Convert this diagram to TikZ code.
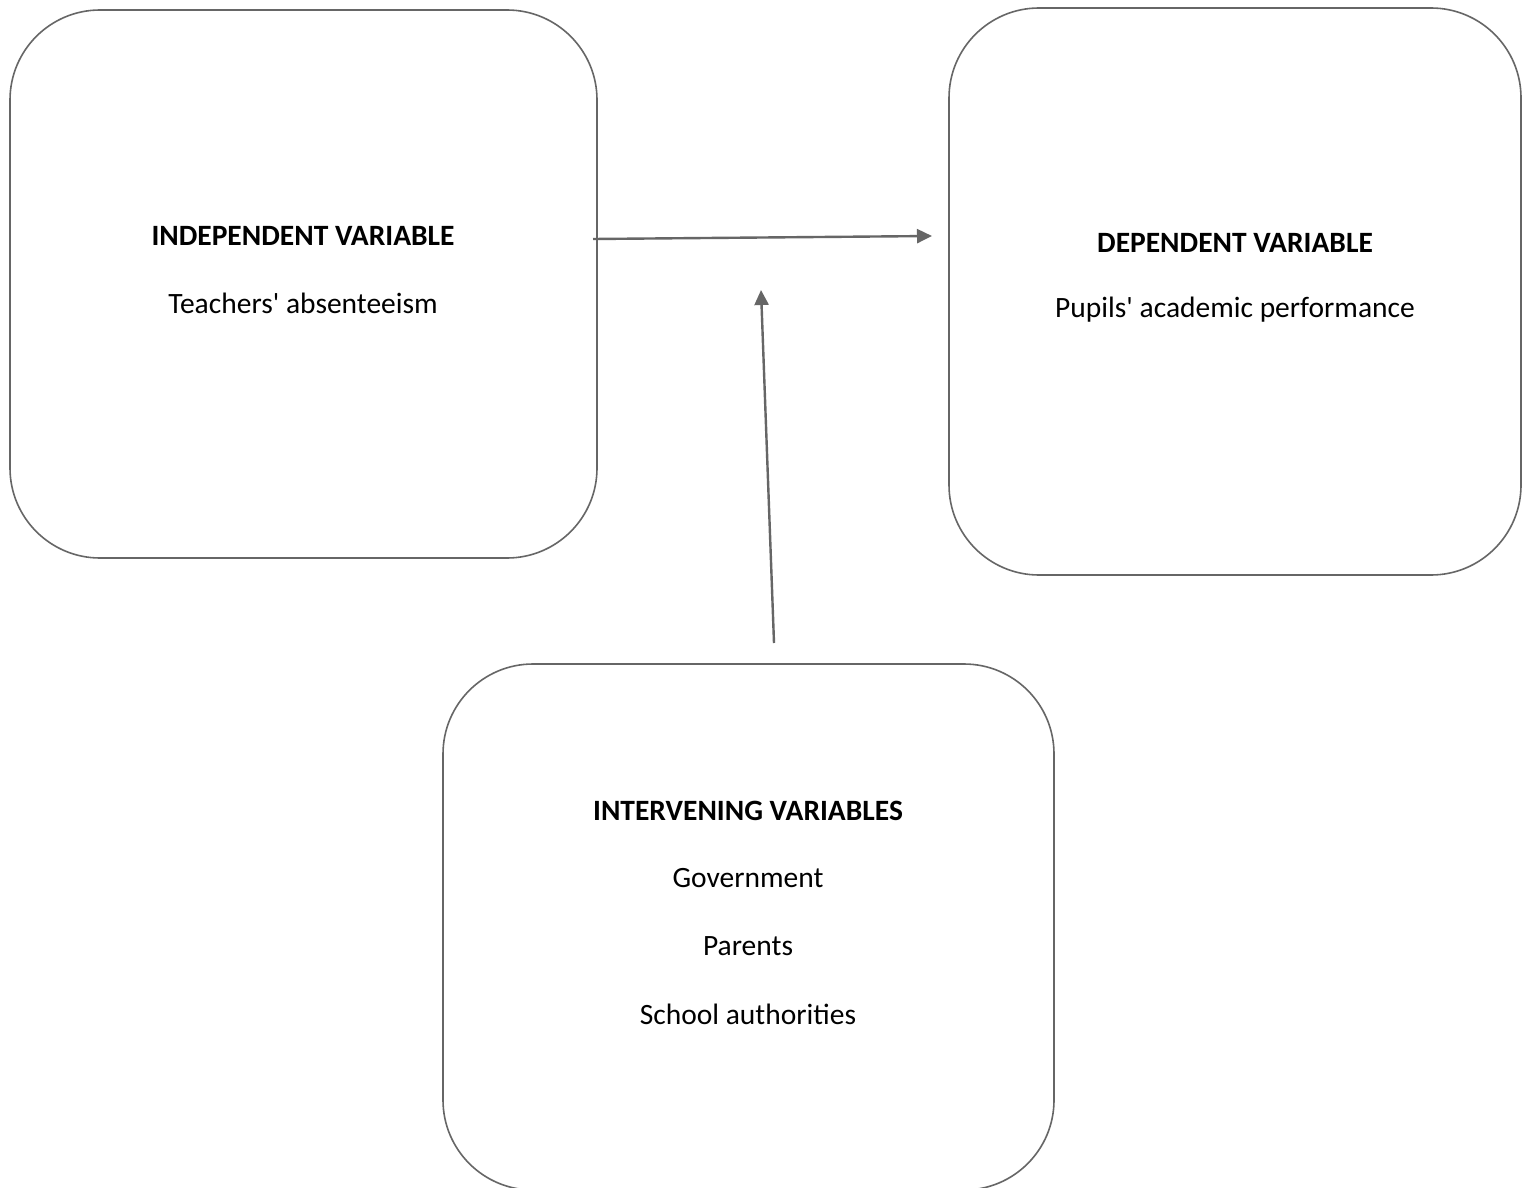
\documentclass[tikz,border=0pt]{standalone}
\usepackage{fontspec}
\setmainfont{Carlito}[Ligatures=TeXReset]
\usetikzlibrary{arrows.meta}
\definecolor{edge}{HTML}{666666}
\begin{document}
\begin{tikzpicture}[x=1pt,y=-1pt,
  box/.style={draw=edge,line width=1.6pt,rounded corners=90pt,inner sep=0pt},
  head/.style={font=\fontsize{29.5}{34}\selectfont\bfseries},
  body/.style={font=\fontsize{29.5}{34}\selectfont},
  link/.style={draw=edge,line width=2.4pt,-{Triangle[length=15pt,width=14pt]}}]
\useasboundingbox (0,0) rectangle (1528,1188);
\clip (0,0) rectangle (1528,1188);
\fill[white] (0,0) rectangle (1528,1188);
\node[box,minimum width=587pt,minimum height=548pt] (indep) at (303.5,284) {};
\node[box,minimum width=572pt,minimum height=567pt] (dep) at (1235,291.5) {};
\node[box,minimum width=611pt,minimum height=526pt] (inter) at (748.5,927) {};
\node[head] (t1) at (303,236) {INDEPENDENT VARIABLE};
\node[body] (t2) at (303,303) {Teachers' absenteeism};
\node[head] (t3) at (1235,243) {DEPENDENT VARIABLE};
\node[body] (t4) at (1235,310) {Pupils' academic performance};
\node[head] (t5) at (748,811) {INTERVENING VARIABLES};
\node[body] (t6) at (748,878) {Government};
\node[body] (t7) at (748,946) {Parents};
\node[body] (t8) at (748,1014) {School authorities};
\coordinate (a1s) at (593,239);
\coordinate (a1e) at (932,236);
\coordinate (a2s) at (774,643);
\coordinate (a2e) at (761,290);
\draw[link] (a1s) -- (a1e);
\draw[link] (a2s) -- (a2e);
\end{tikzpicture}
\end{document}
